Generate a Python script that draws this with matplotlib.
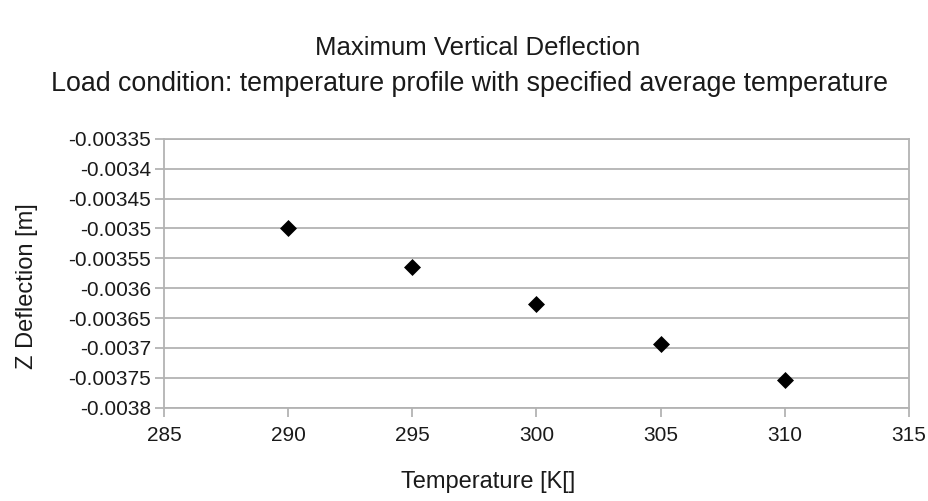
import numpy as np
import matplotlib.pyplot as plt

# average temperature [K] and maximum vertical deflection [m]
temperature = [290, 295, 300, 305, 310]
z_deflection = [-0.003499, -0.003564, -0.003627, -0.003693, -0.003754]

x_ticks = [285, 290, 295, 300, 305, 310, 315]
y_ticks = [-0.0038, -0.00375, -0.0037, -0.00365, -0.0036, -0.00355,
           -0.0035, -0.00345, -0.0034, -0.00335]
y_tick_labels = ["-0.0038", "-0.00375", "-0.0037", "-0.00365", "-0.0036",
                 "-0.00355", "-0.0035", "-0.00345", "-0.0034", "-0.00335"]

plt.rcParams['font.family'] = ['Liberation Sans', 'DejaVu Sans']

fig = plt.figure(figsize=(9.29, 5.01), dpi=100)
ax = fig.add_axes([0.1765, 0.1866, 0.802, 0.536])

grid_col = "#b3b3b3"
text_col = "#1a1a1a"

ax.scatter(temperature, z_deflection, marker="D", s=75, color="black",
           zorder=3, linewidths=0)

ax.set_xlim(285, 315)
ax.set_ylim(-0.0038, -0.00335)
ax.set_xticks(x_ticks)
ax.set_yticks(y_ticks)
ax.set_yticklabels(y_tick_labels)
ax.grid(axis="y", color=grid_col, linewidth=1.3)
ax.set_axisbelow(True)

for side in ["left", "right", "top", "bottom"]:
    ax.spines[side].set_color(grid_col)
    ax.spines[side].set_linewidth(1.3)

ax.tick_params(axis="both", colors=grid_col, width=1.3, length=6.5,
               labelcolor=text_col, labelsize=15)
ax.tick_params(axis="x", pad=7)
ax.tick_params(axis="y", pad=3)

# axis titles are placed off-centre, as in the chart they come from
ax.set_xlabel("Temperature [K[]", fontsize=17, color=text_col)
ax.xaxis.set_label_coords(0.435, -0.277)
ax.set_ylabel("Z Deflection [m]", fontsize=17, color=text_col)
ax.yaxis.set_label_coords(-0.184, 0.4525)
ax.xaxis.label.set_va("center")
ax.yaxis.label.set_va("center")

fig.text(0.514, 0.905, "Maximum Vertical Deflection", ha="center",
         va="center", fontsize=18.5, color=text_col)
fig.text(0.505, 0.833,
         "Load condition: temperature profile with specified average temperature",
         ha="center", va="center", fontsize=19.3, color=text_col)

fig.savefig("out.png", dpi=100)
